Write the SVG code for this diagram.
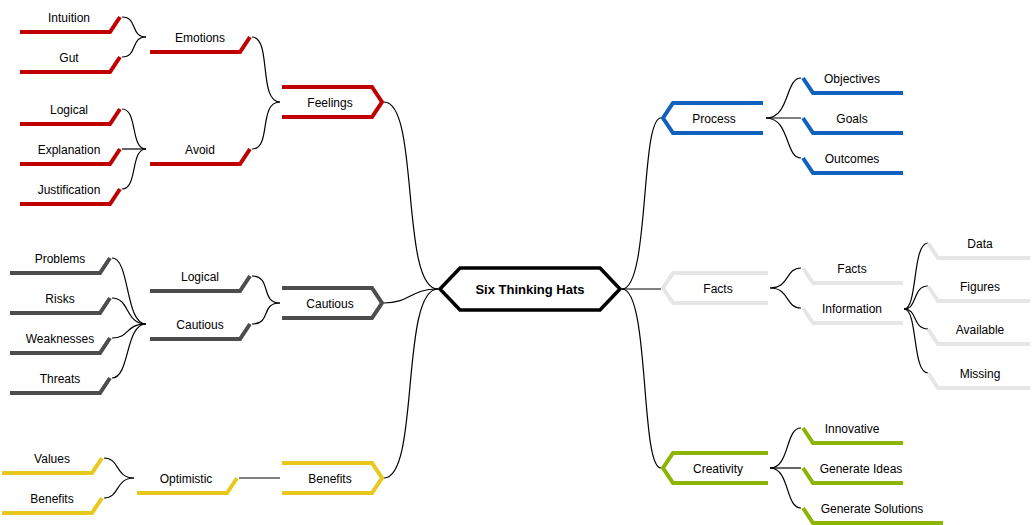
<svg xmlns="http://www.w3.org/2000/svg" width="1033" height="525" viewBox="0 0 1033 525">
<style>
text{font-family:"Liberation Sans",Arial,sans-serif;font-size:12px;fill:#000;text-anchor:middle}
.s{fill:none;stroke-width:4;stroke-linejoin:miter}
.r{stroke:#c00000}.b{stroke:#1060c0}.g{stroke:#e6e6e6}.d{stroke:#4d4d4d}.gr{stroke:#8cb400}.y{stroke:#e8c81c}
#edges path{fill:none;stroke:#000;stroke-width:1.2}
</style>
<rect width="1033" height="525" fill="#fff"/>
<g id="edges">
<path d="M122 17 C138 17 130 37 146 37"/>
<path d="M122 57 C138 57 130 37 146 37"/>
<path d="M122 109 C138 109 130 149 146 149"/>
<path d="M122 149 L146 149"/>
<path d="M122 189 C138 189 130 149 146 149"/>
<path d="M252 37 C272 37 258 102 280 102"/>
<path d="M252 149 C272 149 258 102 280 102"/>
<path d="M384 102 C420 102 400 289 438 289"/>
<path d="M112 258 C130 258 125 324 146 324"/>
<path d="M112 298 C130 298 125 324 146 324"/>
<path d="M112 338 C130 338 125 324 146 324"/>
<path d="M112 378 C130 378 125 324 146 324"/>
<path d="M252 276 C272 276 260 303 280 303"/>
<path d="M252 324 C272 324 260 303 280 303"/>
<path d="M384 303 C410 303 410 289 438 289"/>
<path d="M104 458 C120 458 115 478 134 478"/>
<path d="M104 498 C120 498 115 478 134 478"/>
<path d="M239 478 L280 478"/>
<path d="M384 478 C420 478 400 289 438 289"/>
<path d="M622 289 C650 289 640 118 661 118"/>
<path d="M622 289 L661 289"/>
<path d="M622 289 C650 289 640 468 661 468"/>
<path d="M766 118 C790 118 785 78 801 78"/>
<path d="M766 118 L801 118"/>
<path d="M766 118 C790 118 785 158 801 158"/>
<path d="M770 288 C790 288 785 268 801 268"/>
<path d="M770 288 C790 288 785 308 801 308"/>
<path d="M770 468 C790 468 785 428 801 428"/>
<path d="M770 468 L801 468"/>
<path d="M770 468 C790 468 785 508 801 508"/>
<path d="M904 309 C918 309 912 243 928 243"/>
<path d="M904 309 C918 309 912 286 928 286"/>
<path d="M904 309 C918 309 912 329 928 329"/>
<path d="M904 309 C918 309 912 373 928 373"/>
</g>
<g id="center"><path d="M440 289 L460 268 L600 268 L620 289 L600 310 L460 310 Z" fill="#fff" stroke="#000" stroke-width="3.5"/><text x="530" y="294" style="font-weight:bold;font-size:13px">Six Thinking Hats</text></g>
<g id="feelings"><path class="s r" d="M282 87 H372 L382 102 L372 117 H282"/><text x="330" y="107">Feelings</text></g>
<g id="emotions"><path class="s r" d="M150 52 H240 L250 37"/><text x="200" y="42">Emotions</text></g>
<g id="avoid"><path class="s r" d="M150 164 H240 L250 149"/><text x="200" y="154">Avoid</text></g>
<g id="intuition"><path class="s r" d="M20 32 H110 L120 17"/><text x="69" y="22">Intuition</text></g>
<g id="gut"><path class="s r" d="M20 72 H110 L120 57"/><text x="69" y="62">Gut</text></g>
<g id="logical1"><path class="s r" d="M20 124 H110 L120 109"/><text x="69" y="114">Logical</text></g>
<g id="explanation"><path class="s r" d="M20 164 H110 L120 149"/><text x="69" y="154">Explanation</text></g>
<g id="justification"><path class="s r" d="M20 204 H110 L120 189"/><text x="69" y="194">Justification</text></g>
<g id="cautious"><path class="s d" d="M282 288 H372 L382 303 L372 318 H282"/><text x="330" y="308">Cautious</text></g>
<g id="logical2"><path class="s d" d="M150 291 H240 L250 276"/><text x="200" y="281">Logical</text></g>
<g id="cautious2"><path class="s d" d="M150 339 H240 L250 324"/><text x="200" y="329">Cautious</text></g>
<g id="problems"><path class="s d" d="M10 273 H100 L110 258"/><text x="60" y="263">Problems</text></g>
<g id="risks"><path class="s d" d="M10 313 H100 L110 298"/><text x="60" y="303">Risks</text></g>
<g id="weaknesses"><path class="s d" d="M10 353 H100 L110 338"/><text x="60" y="343">Weaknesses</text></g>
<g id="threats"><path class="s d" d="M10 393 H100 L110 378"/><text x="60" y="383">Threats</text></g>
<g id="benefits"><path class="s y" d="M282 463 H372 L382 478 L372 493 H282"/><text x="330" y="483">Benefits</text></g>
<g id="optimistic"><path class="s y" d="M137 493 H227 L237 478"/><text x="186" y="483">Optimistic</text></g>
<g id="values"><path class="s y" d="M2 473 H92 L102 458"/><text x="52" y="463">Values</text></g>
<g id="benefits2"><path class="s y" d="M2 513 H92 L102 498"/><text x="52" y="503">Benefits</text></g>
<g id="process"><path class="s b" d="M763 103 H673 L663 118 L673 133 H763"/><text x="714" y="123">Process</text></g>
<g id="objectives"><path class="s b" d="M803 78 L813 93 H903"/><text x="852" y="83">Objectives</text></g>
<g id="goals"><path class="s b" d="M803 118 L813 133 H903"/><text x="852" y="123">Goals</text></g>
<g id="outcomes"><path class="s b" d="M803 158 L813 173 H903"/><text x="852" y="163">Outcomes</text></g>
<g id="facts"><path class="s g" d="M768 273 H673 L663 288 L673 303 H768"/><text x="718" y="293">Facts</text></g>
<g id="facts2"><path class="s g" d="M803 268 L813 283 H903"/><text x="852" y="273">Facts</text></g>
<g id="information"><path class="s g" d="M803 308 L813 323 H903"/><text x="852" y="313">Information</text></g>
<g id="data"><path class="s g" d="M928 243 L938 258 H1030"/><text x="980" y="248">Data</text></g>
<g id="figures"><path class="s g" d="M928 286 L938 301 H1030"/><text x="980" y="291">Figures</text></g>
<g id="available"><path class="s g" d="M928 329 L938 344 H1030"/><text x="980" y="334">Available</text></g>
<g id="missing"><path class="s g" d="M928 373 L938 388 H1030"/><text x="980" y="378">Missing</text></g>
<g id="creativity"><path class="s gr" d="M768 453 H673 L663 468 L673 483 H768"/><text x="718" y="473">Creativity</text></g>
<g id="innovative"><path class="s gr" d="M803 428 L813 443 H903"/><text x="852" y="433">Innovative</text></g>
<g id="ideas"><path class="s gr" d="M803 468 L813 483 H903"/><text x="861" y="473">Generate Ideas</text></g>
<g id="solutions"><path class="s gr" d="M803 508 L813 523 H943"/><text x="872" y="513">Generate Solutions</text></g>
</svg>
